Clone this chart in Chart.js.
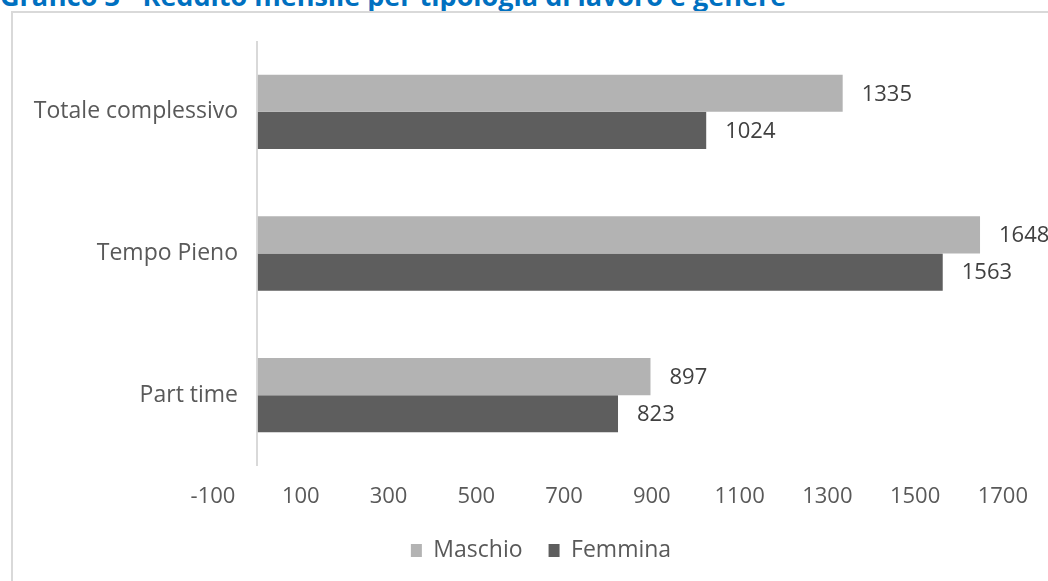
<!DOCTYPE html>
<html lang="it">
<head>
  <meta charset="UTF-8" />
  <title>Reddito mensile per tipologia di lavoro e genere</title>
  <script src="https://cdn.jsdelivr.net/npm/chart.js"></script>
  <style>
    html, body { margin: 0; padding: 0; background: #fff; overflow: hidden; }
    #wrap { position: relative; width: 1048px; height: 581px; overflow: hidden; }
    #titolo {
      position: absolute; left: 0; top: -18px; margin: 0;
      font: bold 27px/27px "Open Sans", sans-serif; color: #0070c0; white-space: nowrap;
    }
    #cornice {
      position: absolute; left: 11px; top: 11px; width: 1100px; height: 700px;
      border: 2px solid #d9d9d9; box-sizing: border-box;
    }
    #grafico { position: absolute; left: 0; top: 0; }
  </style>
</head>
<body>
  <div id="wrap">
    <div id="titolo">Grafico 3 - Reddito mensile per tipologia di lavoro e genere</div>
    <div id="cornice"></div>
    <canvas id="grafico" width="1048" height="581"></canvas>
  </div>

  <script>
    // dati
    const categorie = ["Totale complessivo", "Tempo Pieno", "Part time"];
    const maschio = [1335, 1648, 897];
    const femmina = [1024, 1563, 823];
    const tickX = [-100, 0, 100, 300, 500, 700, 900, 1100, 1300, 1500, 1700];

    const testo = "#595959";

    // etichette dei valori a destra delle barre
    const etichetteValori = {
      id: "etichetteValori",
      afterDatasetsDraw(chart) {
        const ctx = chart.ctx;
        ctx.save();
        ctx.font = '22px "Open Sans", sans-serif';
        ctx.fillStyle = "#404040";
        ctx.textAlign = "left";
        ctx.textBaseline = "middle";
        chart.data.datasets.forEach((ds, i) => {
          chart.getDatasetMeta(i).data.forEach((bar, j) => {
            ctx.fillText(ds.data[j], bar.x + 19, bar.y + 1);
          });
        });
        ctx.restore();
      }
    };

    new Chart(document.getElementById("grafico"), {
      type: "bar",
      data: {
        labels: categorie,
        datasets: [
          { label: "Maschio", data: maschio, backgroundColor: "#b3b3b3" },
          { label: "Femmina", data: femmina, backgroundColor: "#5e5e5e" }
        ]
      },
      options: {
        indexAxis: "y",
        responsive: false,
        animation: false,
        devicePixelRatio: 1,
        categoryPercentage: 0.525,
        barPercentage: 1,
        layout: { padding: { top: 41, right: 0, bottom: 9, left: 34 } },
        plugins: {
          tooltip: { enabled: false },
          legend: {
            position: "bottom",
            labels: {
              color: testo,
              font: { family: "Open Sans", size: 23 },
              boxWidth: 11,
              boxHeight: 13,
              padding: 26
            }
          }
        },
        scales: {
          x: {
            min: -100,
            max: 1800,
            afterBuildTicks: axis => { axis.ticks = tickX.map(v => ({ value: v })); },
            afterFit: s => { s.height = 47; },
            grid: {
              drawTicks: false,
              lineWidth: 2,
              color: c => (c.tick && c.tick.value === 0 ? "#d9d9d9" : "rgba(0,0,0,0)")
            },
            border: { display: false },
            ticks: {
              color: testo,
              font: { family: "Open Sans", size: 22, lineHeight: 1 },
              padding: 20,
              maxRotation: 0,
              autoSkip: false,
              callback: v => (v === 0 ? "" : v)
            }
          },
          // asse delle categorie: solo spazio a sinistra
          y: {
            afterFit: s => { s.width = 179; },
            grid: { display: false, drawTicks: false },
            border: { display: false },
            ticks: { display: false }
          },
          // etichette delle categorie accanto all'asse dello zero
          yl: {
            type: "category",
            labels: categorie,
            offset: true,
            position: { x: -43 },
            grid: { display: false, drawTicks: false },
            border: { display: false },
            ticks: {
              color: testo,
              font: { family: "Open Sans", size: 23 },
              padding: 0
            }
          }
        }
      },
      plugins: [etichetteValori]
    });
  </script>
</body>
</html>
